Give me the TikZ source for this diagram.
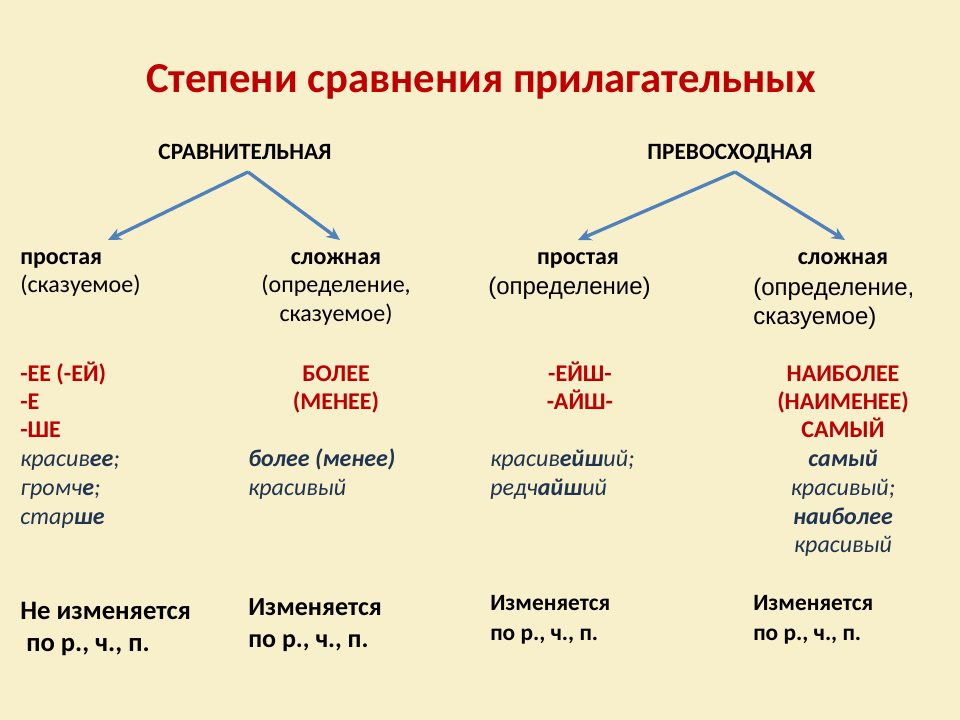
\documentclass[tikz,border=0pt]{standalone}
\usepackage{fontspec}
\setmainfont{Carlito}
\newfontfamily\arialf{Liberation Sans}
\usetikzlibrary{arrows.meta}
\definecolor{bg}{HTML}{F8EFCB}
\definecolor{redt}{HTML}{C00000}
\definecolor{bluet}{HTML}{1F3450}
\definecolor{arr}{HTML}{4F81BD}
\tikzset{
  t/.style={inner sep=0pt,anchor=base west,font=\fontsize{18pt}{21pt}\selectfont},
  tc/.style={t,anchor=base},
  b/.style={font=\fontsize{18pt}{21pt}\selectfont\bfseries},
  r/.style={text=redt,font=\fontsize{18pt}{21pt}\selectfont\bfseries},
  it/.style={text=bluet,font=\fontsize{18pt}{21pt}\selectfont\itshape},
  ar/.style={t,font=\arialf\fontsize{18pt}{21pt}\selectfont},
  arw/.style={draw=arr,line width=2.5pt,-{Stealth[length=10pt,width=9pt]}}
}
\begin{document}
\begin{tikzpicture}[x=0.75pt,y=-0.75pt]
\fill[bg] (0,0) rectangle (960,720);
\useasboundingbox (0,0) rectangle (960,720);
\node[tc,text=redt,font=\fontsize{32pt}{36pt}\selectfont\bfseries] (title) at (481,93) {Степени сравнения прилагательных};
\node[tc,font=\fontsize{17.5pt}{20pt}\selectfont\bfseries] (h1) at (245,160) {СРАВНИТЕЛЬНАЯ};
\node[tc,font=\fontsize{17.5pt}{20pt}\selectfont\bfseries] (h2) at (730,160) {ПРЕВОСХОДНАЯ};
\coordinate (a1) at (248,172);
\coordinate (a2) at (735,172);
\node[t,b] (c1a) at (20,265) {простая};
\node[tc,b] (c2a) at (336,265) {сложная};
\node[tc,b] (c3a) at (578,265) {простая};
\node[tc,b] (c4a) at (843,265) {сложная};
\coordinate (e1) at (108,240);
\coordinate (e2) at (340,240);
\coordinate (e3) at (578,240);
\coordinate (e4) at (845,240);
\draw[arw] (a1) -- (e1);
\draw[arw] (a1) -- (e2);
\draw[arw] (a2) -- (e3);
\draw[arw] (a2) -- (e4);
% column 1
\node[t] (c1b) at (20,292) {(сказуемое)};
\node[t,r] (c1c) at (20,381) {-ЕЕ (-ЕЙ)};
\node[t,r] (c1d) at (20,409) {-Е};
\node[t,r] (c1e) at (20,437) {-ШЕ};
\node[t,it] (c1f) at (20,466) {красив\textbf{ее};};
\node[t,it] (c1g) at (20,495) {громч\textbf{е};};
\node[t,it] (c1h) at (20,524) {стар\textbf{ше}};
\node[t,font=\fontsize{20pt}{24pt}\selectfont\bfseries] (c1i) at (20,619) {Не изменяется};
\node[t,font=\fontsize{20pt}{24pt}\selectfont\bfseries] (c1j) at (26,651) {по р., ч., п.};
% column 2
\node[tc] (c2b) at (336,292) {(определение,};
\node[tc] (c2c) at (336,321) {сказуемое)};
\node[tc,r] (c2d) at (336,381) {БОЛЕЕ};
\node[tc,r] (c2e) at (336,409) {(МЕНЕЕ)};
\node[t,it] (c2f) at (248,466) {\textbf{более (менее)}};
\node[t,it] (c2g) at (248,495) {красивый};
\node[t,font=\fontsize{19.5pt}{24pt}\selectfont\bfseries] (c2h) at (248,615) {Изменяется};
\node[t,font=\fontsize{19.5pt}{24pt}\selectfont\bfseries] (c2i) at (248,647) {по р., ч., п.};
% column 3
\node[ar] (c3b) at (488,295) {(определение)};
\node[tc,r] (c3c) at (580,381) {-ЕЙШ-};
\node[tc,r] (c3d) at (580,409) {-АЙШ-};
\node[t,it] (c3e) at (490,466) {красив\textbf{ейш}ий;};
\node[t,it] (c3f) at (490,495) {редч\textbf{айш}ий};
\node[t,font=\fontsize{17.5pt}{21pt}\selectfont\bfseries] (c3g) at (490,610) {Изменяется};
\node[t,font=\fontsize{17.5pt}{21pt}\selectfont\bfseries] (c3h) at (490,640) {по р., ч., п.};
% column 4
\node[ar] (c4b) at (753,296) {(определение,};
\node[ar] (c4c) at (753,325) {сказуемое)};
\node[tc,r] (c4d) at (843,381) {НАИБОЛЕЕ};
\node[tc,r] (c4e) at (843,409) {(НАИМЕНЕЕ)};
\node[tc,r] (c4f) at (843,437) {САМЫЙ};
\node[tc,it] (c4g) at (843,466) {\textbf{самый}};
\node[tc,it] (c4h) at (843,495) {красивый;};
\node[tc,it] (c4i) at (843,524) {\textbf{наиболее}};
\node[tc,it] (c4j) at (843,552) {красивый};
\node[t,font=\fontsize{17.5pt}{21pt}\selectfont\bfseries] (c4k) at (753,610) {Изменяется};
\node[t,font=\fontsize{17.5pt}{21pt}\selectfont\bfseries] (c4l) at (753,640) {по р., ч., п.};
\end{tikzpicture}
\end{document}
